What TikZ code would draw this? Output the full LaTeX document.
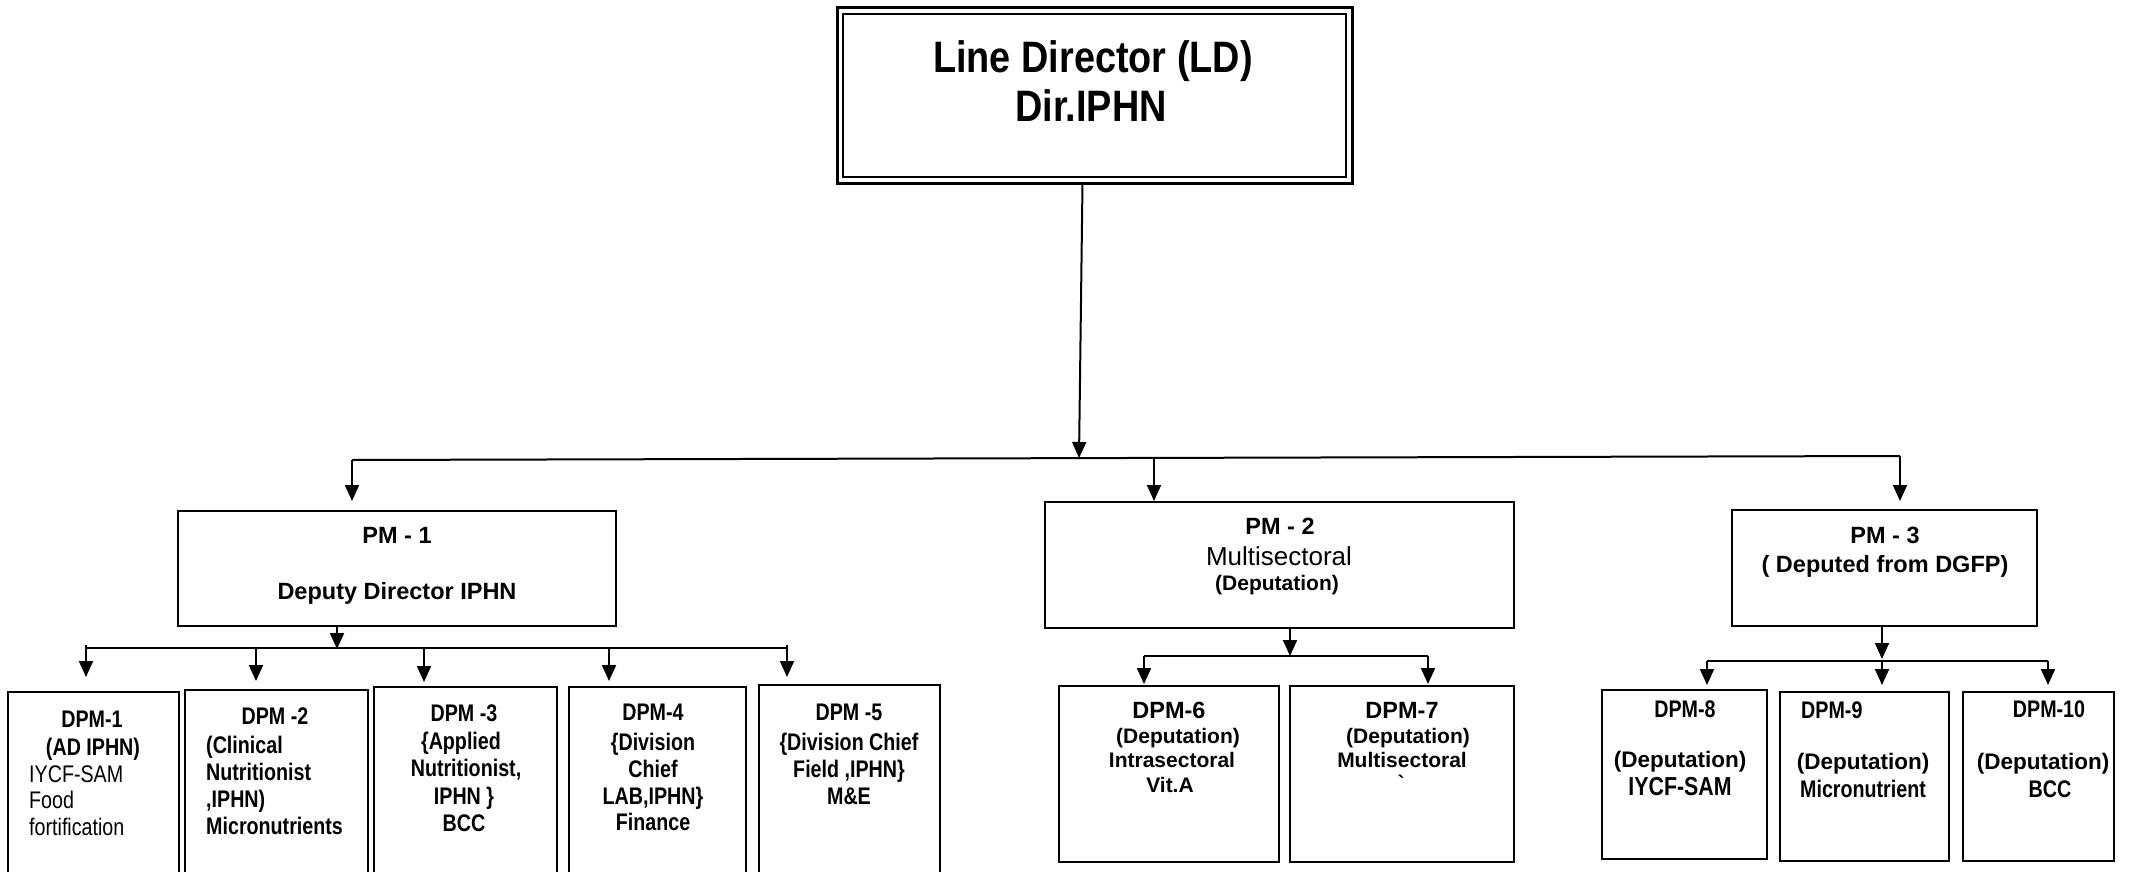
\documentclass[tikz,border=0pt]{standalone}
\usepackage{fontspec}
\setmainfont{Liberation Sans}
\newfontfamily\narrowfont[FakeStretch=0.82]{Liberation Sans}
\newfontfamily\titlefont[FakeStretch=0.86]{Liberation Sans}
\usetikzlibrary{arrows.meta}
\tikzset{
  box/.style={draw, line width=2pt, inner sep=0pt, outer sep=0pt, anchor=north west},
  conn/.style={line width=2pt},
  arr/.style={line width=2pt, -{Triangle[width=14pt,length=16pt]}},
  tx/.style={anchor=base, inner sep=0pt},
  txl/.style={anchor=base west, inner sep=0pt},
  ldf/.style={font=\titlefont\fontsize{44}{50}\selectfont\bfseries},
  pmf/.style={font=\fontsize{23.5}{27}\selectfont\bfseries},
  nbf/.style={font=\narrowfont\fontsize{24}{28}\selectfont\bfseries},
  nrf/.style={font=\narrowfont\fontsize{24}{28}\selectfont},
  bigf/.style={font=\fontsize{23.5}{27}\selectfont\bfseries},
  depf/.style={font=\fontsize{22.5}{27}\selectfont\bfseries},
  smf/.style={font=\fontsize{21}{25}\selectfont\bfseries},
}
\begin{document}
\begin{tikzpicture}[x=1pt,y=-1pt]
\clip (0,0) rectangle (2142,872);
\fill[white] (0,0) rectangle (2142,872);

% ---------- Line Director ----------
\node[box, line width=3pt, minimum width=515pt, minimum height=175pt] (ld) at (837,8) {};
\draw[line width=1.8pt] ([shift={(6,6)}]ld.north west) rectangle ([shift={(-6,-6)}]ld.south east);
\node[tx, ldf] (ldA) at (1093,73) {Line Director (LD)};
\node[tx, ldf] (ldB) at (1091,122) {Dir.IPHN};

% ---------- main bus ----------
\coordinate (j0) at (1079,458);
\coordinate (bL) at (352,460);
\coordinate (bM) at (1154,458);
\coordinate (bR) at (1900,456);
\draw[arr] ([xshift=-12pt]ld.south) -- (j0);
\draw[conn] (bL) -- (bR);
\draw[arr] (bL) -- ++(0,41);
\draw[arr] (bM) -- ++(0,43);
\draw[arr] (bR) -- ++(0,45);

% ---------- PM boxes ----------
\node[box, minimum width=438pt, minimum height=115pt] (pm1) at (178,511) {};
\node[box, minimum width=469pt, minimum height=126pt] (pm2) at (1045,502) {};
\node[box, minimum width=305pt, minimum height=116pt] (pm3) at (1732,510) {};

\node[tx, pmf] (pm1a) at (397,543) {PM - 1};
\node[tx, pmf] (pm1b) at (397,599) {Deputy Director IPHN};
\node[tx, pmf] (pm2a) at (1280,534) {PM - 2};
\node[tx, font=\fontsize{26}{30}\selectfont] (pm2b) at (1279,565) {Multisectoral};
\node[tx, smf] (pm2c) at (1277,590) {(Deputation)};
\node[tx, pmf] (pm3a) at (1885,543) {PM - 3};
\node[tx, pmf] (pm3b) at (1885,572) {( Deputed from DGFP)};

% ---------- PM1 subtree ----------
\coordinate (s1L) at (86,648);
\coordinate (s1b) at (256,648);
\coordinate (s1c) at (424,648);
\coordinate (s1d) at (609,648);
\coordinate (s1R) at (787,648);
\draw[arr] ([xshift=-60pt]pm1.south) -- ++(0,23);
\draw[conn] (s1L) -- (s1R);
\draw[arr] ([shift={(0,-3)}]s1L) -- ++(0,32);
\draw[arr] (s1b) -- ++(0,33);
\draw[arr] (s1c) -- ++(0,34);
\draw[arr] (s1d) -- ++(0,33);
\draw[arr] ([shift={(0,-3)}]s1R) -- ++(0,32);

\node[box, minimum width=171pt, minimum height=190pt] (d1) at (8,692) {};
\node[box, minimum width=183pt, minimum height=192pt] (d2) at (185,690) {};
\node[box, minimum width=183pt, minimum height=195pt] (d3) at (374,687) {};
\node[box, minimum width=177pt, minimum height=195pt] (d4) at (569,687) {};
\node[box, minimum width=181pt, minimum height=197pt] (d5) at (759,685) {};

\node[tx, nbf] (d1a) at (92,727) {DPM-1};
\node[tx, nbf] (d1b) at (93,755) {(AD IPHN)};
\node[txl, nrf] (d1c) at (29,782) {IYCF-SAM};
\node[txl, nrf] (d1d) at (29,808) {Food};
\node[txl, nrf] (d1e) at (29,835) {fortification};

\node[tx, nbf] (d2a) at (275,724) {DPM -2};
\node[txl, nbf] (d2b) at (206,753) {(Clinical};
\node[txl, nbf] (d2c) at (206,780) {Nutritionist};
\node[txl, nbf] (d2d) at (206,807) {,IPHN)};
\node[txl, nbf] (d2e) at (206,834) {Micronutrients};

\node[tx, nbf] (d3a) at (464,721) {DPM -3};
\node[tx, nbf] (d3b) at (461,749) {\{Applied};
\node[tx, nbf] (d3c) at (466,776) {Nutritionist,};
\node[tx, nbf] (d3d) at (464,804) {IPHN \}};
\node[tx, nbf] (d3e) at (464,831) {BCC};

\node[tx, nbf] (d4a) at (653,720) {DPM-4};
\node[tx, nbf] (d4b) at (653,750) {\{Division};
\node[tx, nbf] (d4c) at (653,777) {Chief};
\node[tx, nbf] (d4d) at (653,804) {LAB,IPHN\}};
\node[tx, nbf] (d4e) at (653,830) {Finance};

\node[tx, nbf] (d5a) at (849,720) {DPM -5};
\node[tx, nbf] (d5b) at (849,750) {\{Division Chief};
\node[tx, nbf] (d5c) at (849,777) {Field ,IPHN\}};
\node[tx, nbf] (d5d) at (849,804) {M\&E};

% ---------- PM2 subtree ----------
\coordinate (s2L) at (1144,656);
\coordinate (s2R) at (1428,656);
\draw[arr] ([xshift=10.5pt]pm2.south) -- ++(0,28);
\draw[conn] (s2L) -- (s2R);
\draw[arr] (s2L) -- ++(0,28);
\draw[arr] (s2R) -- ++(0,28);

\node[box, minimum width=220pt, minimum height=176pt] (d6) at (1059,686) {};
\node[box, minimum width=224pt, minimum height=176pt] (d7) at (1290,686) {};

\node[tx, bigf] (d6a) at (1169,718) {DPM-6};
\node[tx, smf] (d6b) at (1178,743) {(Deputation)};
\node[tx, smf] (d6c) at (1172,767) {Intrasectoral};
\node[tx, smf] (d6d) at (1170,792) {Vit.A};

\node[tx, bigf] (d7a) at (1402,718) {DPM-7};
\node[tx, smf] (d7b) at (1408,743) {(Deputation)};
\node[tx, smf] (d7c) at (1402,767) {Multisectoral};
\node[tx, smf] (d7d) at (1401,790) {\textasciigrave};

% ---------- PM3 subtree ----------
\coordinate (s3L) at (1707,661);
\coordinate (s3M) at (1882,661);
\coordinate (s3R) at (2048,661);
\draw[arr] ([xshift=-2.5pt]pm3.south) -- ++(0,33);
\draw[conn] (s3L) -- (s3R);
\draw[arr] (s3L) -- ++(0,24);
\draw[arr] (s3M) -- ++(0,24);
\draw[arr] (s3R) -- ++(0,24);

\node[box, minimum width=165pt, minimum height=169pt] (d8) at (1602,690) {};
\node[box, minimum width=169pt, minimum height=169pt] (d9) at (1780,692) {};
\node[box, minimum width=151pt, minimum height=169pt] (d10) at (1963,692) {};

\node[tx, nbf] (d8a) at (1685,717) {DPM-8};
\node[tx, depf] (d8b) at (1680,767) {(Deputation)};
\node[tx, font=\narrowfont\fontsize{26}{30}\selectfont\bfseries] (d8c) at (1680,795) {IYCF-SAM};

\node[txl, nbf] (d9a) at (1801,718) {DPM-9};
\node[tx, depf] (d9b) at (1863,769) {(Deputation)};
\node[tx, nbf] (d9c) at (1863,797) {Micronutrient};

\node[tx, nbf] (d10a) at (2049,717) {DPM-10};
\node[tx, depf] (d10b) at (2043,769) {(Deputation)};
\node[tx, nbf] (d10c) at (2050,797) {BCC};
\end{tikzpicture}
\end{document}
